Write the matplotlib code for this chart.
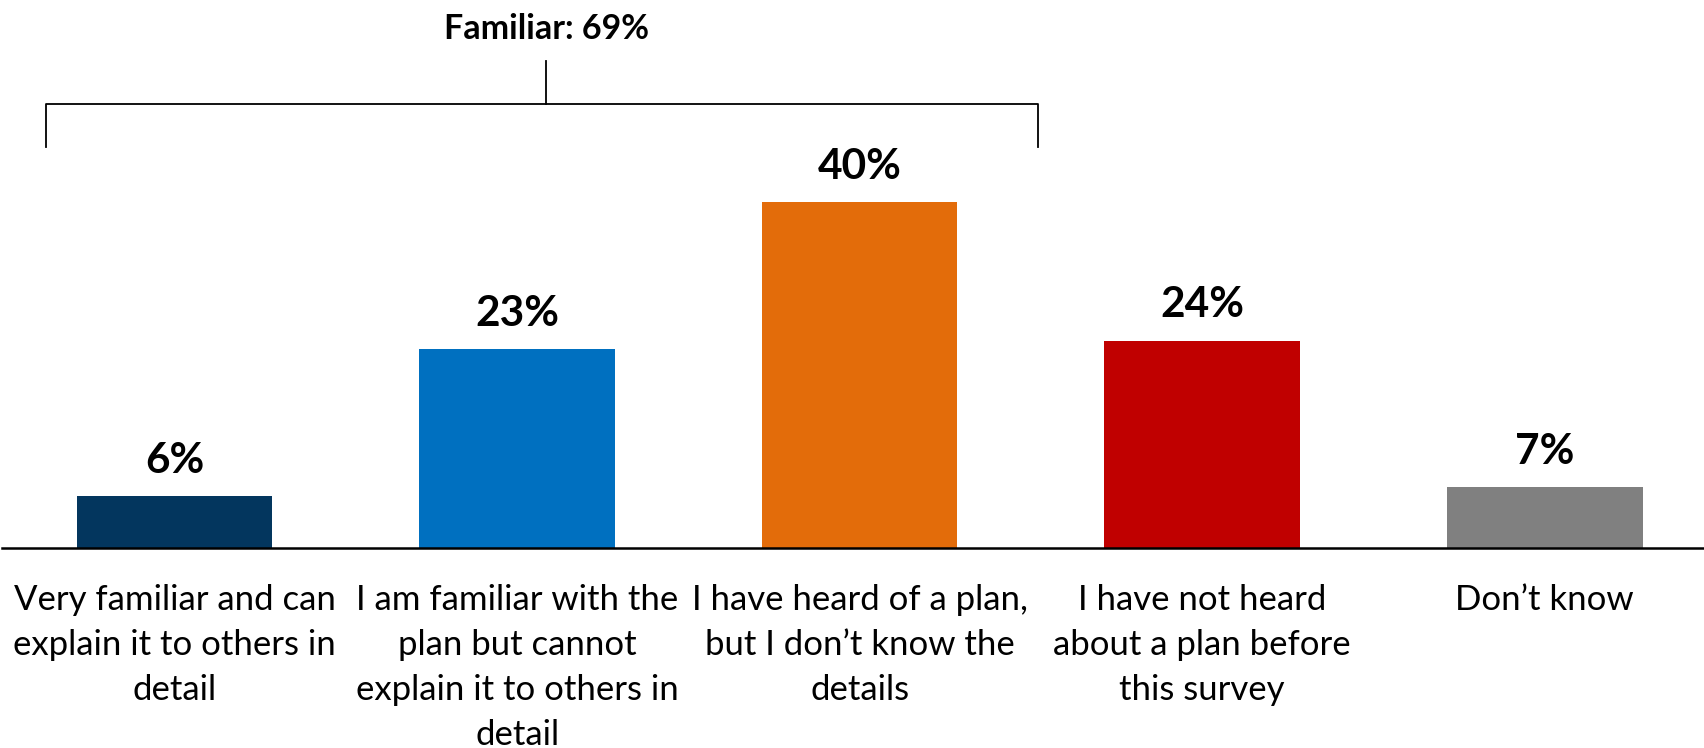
import matplotlib.pyplot as plt

plt.rcParams['font.family'] = ['Lato', 'DejaVu Sans']

categories = [
    "Very familiar and can\nexplain it to others in\ndetail",
    "I am familiar with the\nplan but cannot\nexplain it to others in\ndetail",
    "I have heard of a plan,\nbut I don\u2019t know the\ndetails",
    "I have not heard\nabout a plan before\nthis survey",
    "Don\u2019t know",
]
values = [6, 23, 40, 24, 7]
colors = ["#03365E", "#0070C0", "#E36C0A", "#C00000", "#808080"]
familiar_label = "Familiar: 69%"

fig = plt.figure(figsize=(17.04, 7.48), dpi=100)
ax = fig.add_axes([0.001, 0.2674, 0.999, 0.7326])

x = list(range(len(values)))
ax.bar(x, values, width=0.571, color=colors)

for xi, v in zip(x, values):
    ax.text(xi, v + 1.9, f"{v}%", ha='center', va='bottom',
            fontsize=30.5, fontweight='bold')

ax.set_xlim(-0.505, 4.465)
ax.set_ylim(0, 63.4)

ax.set_xticks(x)
ax.set_xticklabels(categories, fontsize=25, linespacing=1.5, va='top')
ax.tick_params(axis='x', length=0, pad=26)
ax.set_yticks([])

for side in ['top', 'right', 'left']:
    ax.spines[side].set_visible(False)
ax.spines['bottom'].set_linewidth(1.8)

# bracket over the "familiar" group
left, right, mid = -0.377, 2.522, 1.085
ax.plot([left, left, right, right], [46.4, 51.4, 51.4, 46.4],
        color='black', lw=1.3, clip_on=False)
ax.plot([mid, mid], [51.4, 56.3], color='black', lw=1.3, clip_on=False)
ax.text(mid, 60.0, familiar_label, ha='center', va='center',
        fontsize=24.5, fontweight='bold')

fig.savefig("out.png", dpi=100)
